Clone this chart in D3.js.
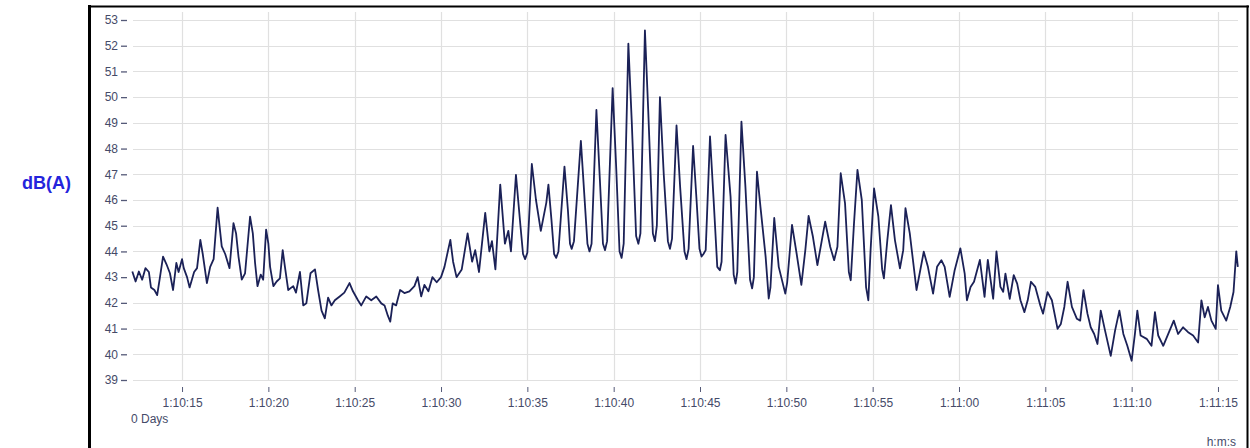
<!DOCTYPE html>
<html>
<head>
  <title>dB(A) over time</title>
  <script src="https://d3js.org/d3.v7.min.js"></script>
  <style>
    body { margin: 0; background: #fff; }
    .tick text { font-family: Arial, "Liberation Sans", sans-serif; font-size: 12px; fill: #454a68; }
    .tick line { stroke: #555a78; }
  </style>
</head>
<body>
  <div id="chart"></div>

  <script>
    // Seconds after 1:10:00
    const seconds = [
      12.12, 12.31, 12.5, 12.69, 12.88, 13.08, 13.2, 13.4, 13.56, 13.7, 13.9, 14.1, 14.3, 14.48, 14.67, 14.8,
      15.0, 15.1, 15.29, 15.44, 15.7, 15.87, 16.06, 16.2, 16.44, 16.63, 16.83, 17.06, 17.17, 17.3, 17.5, 17.75,
      17.98, 18.13, 18.27, 18.46, 18.65, 18.94, 19.1, 19.23, 19.37, 19.56, 19.7, 19.87, 20.0, 20.1, 20.29, 20.48,
      20.67, 20.83, 20.96, 21.15, 21.44, 21.6, 21.83, 22.02, 22.2, 22.44, 22.7, 22.88, 23.08, 23.27, 23.46, 23.65,
      23.85, 24.13, 24.4, 24.7, 24.9, 25.19, 25.38, 25.67, 25.96, 26.25, 26.54, 26.73, 26.92, 27.06, 27.2, 27.4,
      27.63, 27.88, 28.17, 28.46, 28.65, 28.85, 29.04, 29.27,
      29.5, 29.75, 30.0, 30.2, 30.54, 30.7, 30.9, 31.2, 31.54, 31.8, 31.98, 32.2, 32.56, 32.8, 32.95, 33.15,
      33.43, 33.7, 33.9, 34.05, 34.34, 34.6, 34.75, 34.87, 35.0, 35.26, 35.5, 35.78, 36.1, 36.22, 36.4, 36.55,
      36.67, 36.8, 37.15, 37.35, 37.47, 37.57, 37.7, 38.1, 38.3, 38.48, 38.6, 38.72, 39.0, 39.2, 39.38, 39.5,
      39.62, 39.94, 40.15, 40.34, 40.46, 40.58, 40.85, 41.05, 41.3, 41.43, 41.55, 41.81, 42.0, 42.27, 42.39, 42.5,
      42.68, 42.9, 43.14, 43.26, 43.38, 43.64, 43.85, 44.1, 44.22, 44.34, 44.6, 44.8, 44.97, 45.09, 45.2,
      45.33, 45.58, 45.8, 46.0, 46.15, 46.25, 46.48, 46.77, 46.95, 47.06, 47.16, 47.4, 47.63, 47.9, 48.02, 48.12,
      48.3, 48.5, 48.8, 48.98, 49.08, 49.3, 49.56, 49.94, 50.05, 50.33, 50.6, 50.87, 51.1, 51.29, 51.54, 51.8,
      52.25, 52.54, 52.77, 52.96, 53.15, 53.4, 53.62, 53.73, 53.92, 54.12, 54.37, 54.62, 54.75, 54.88, 55.08, 55.33,
      55.55, 55.65, 55.85, 56.06, 56.29, 56.58, 56.77, 56.9, 57.15, 57.54, 57.96, 58.2, 58.5, 58.73, 58.98, 59.17,
      59.46, 59.75, 60.08, 60.33, 60.46,
      60.67, 60.87, 61.21, 61.48, 61.67, 61.98, 62.17, 62.4, 62.56, 62.69, 62.94, 63.17, 63.37, 63.56, 63.79, 63.98,
      64.17, 64.42, 64.71, 64.87, 65.13, 65.38, 65.71, 65.9, 66.1, 66.29, 66.54, 66.83, 67.02, 67.21, 67.44, 67.63,
      67.83, 68.02, 68.21, 68.46, 68.79, 69.04, 69.29, 69.52, 69.75, 70.0, 70.19, 70.33, 70.52, 70.87, 71.15, 71.35,
      71.54, 71.83, 72.12, 72.44, 72.69, 72.98, 73.27, 73.56, 73.85, 74.04, 74.23, 74.42, 74.62, 74.87, 75.0, 75.19,
      75.48, 75.71, 75.9, 76.06, 76.15
    ];

    // Sound level in dB(A) at each of those times
    const dbA = [
      43.22, 42.83, 43.22, 42.9, 43.35, 43.2, 42.6, 42.5, 42.3, 42.9, 43.8, 43.5, 43.15, 42.5, 43.55, 43.2,
      43.7, 43.35, 43.0, 42.6, 43.2, 43.35, 44.45, 43.9, 42.77, 43.4, 43.7, 45.7, 45.0, 44.2, 43.9, 43.35,
      45.1, 44.7, 43.8, 42.9, 43.15, 45.35, 44.7, 43.55, 42.65, 43.1, 42.9, 44.85, 44.3, 43.4, 42.65, 42.83,
      42.95, 44.05, 43.4, 42.5, 42.65, 42.4, 43.2, 41.9, 41.98, 43.15, 43.3, 42.5, 41.7, 41.4, 42.2, 41.9,
      42.1, 42.25, 42.4, 42.77, 42.45, 42.1, 41.9, 42.25, 42.1, 42.25, 41.98, 41.9, 41.5, 41.27, 41.98, 41.9,
      42.5, 42.38, 42.45, 42.65, 43.0, 42.25, 42.7, 42.45,
      43.0, 42.8, 43.0, 43.4, 44.45, 43.6, 43.0, 43.3, 44.7, 43.6, 44.05, 43.2, 45.5, 44.0, 44.4, 43.3,
      46.6, 44.3, 44.8, 44.0, 46.98, 45.0, 43.9, 43.7, 43.95, 47.4, 46.0, 44.8, 45.9, 46.6, 45.2, 43.9,
      43.75, 44.0, 47.3, 45.6, 44.3, 44.1, 44.4, 48.3, 46.2, 44.3, 44.0, 44.3, 49.5, 46.8, 44.3, 44.05,
      44.4, 50.35, 47.2, 44.0, 43.75, 44.3, 52.08, 49.0, 44.6, 44.3, 44.7, 52.6, 49.5, 44.7, 44.4, 45.0,
      50.0, 47.0, 44.4, 44.1, 44.5, 48.9, 46.5, 44.0, 43.7, 44.1, 48.1, 46.0, 44.1, 43.8, 43.9,
      44.05, 48.47, 45.87, 43.4, 43.27, 43.6, 48.53, 46.13, 43.1, 42.75, 43.2, 49.05, 46.52, 42.9, 42.56, 43.0,
      47.1, 45.74, 43.8, 42.17, 42.6, 45.3, 43.4, 42.36, 42.8, 45.03, 43.9, 42.7, 44.05, 45.38, 44.57, 43.47,
      45.16, 44.18, 43.66, 44.18, 47.04, 45.87, 43.2, 42.88, 45.1, 47.17, 46.0, 42.6, 42.1, 44.05, 46.45, 45.35,
      43.3, 42.95, 44.44, 45.8, 44.44, 43.34, 44.05, 45.68, 44.7, 42.5, 43.99, 43.4, 42.36, 43.4, 43.66, 43.4,
      42.23, 43.27, 44.12, 43.14, 42.1,
      42.62, 42.82, 43.67, 42.23, 43.67, 42.16, 44.0, 42.62, 42.43, 43.14, 42.16, 43.08, 42.75, 42.1, 41.64, 42.1,
      42.82, 42.62, 41.9, 41.58, 42.42, 42.1, 40.99, 41.18, 41.84, 42.82, 41.84, 41.38, 41.31, 42.49, 41.58, 41.05,
      40.79, 40.4, 41.7, 40.92, 39.94, 40.92, 41.7, 40.79, 40.33, 39.75, 40.79, 41.7, 40.73, 40.6, 40.33, 41.64,
      40.73, 40.33, 40.79, 41.31, 40.79, 41.05, 40.86, 40.73, 40.46, 42.1, 41.44, 41.84, 41.31, 40.99, 42.69, 41.7,
      41.31, 41.84, 42.42, 44.0, 43.4
    ];

    // Axis ticks
    const yTicks = [39, 40, 41, 42, 43, 44, 45, 46, 47, 48, 49, 50, 51, 52, 53];
    const xTickSeconds = [15, 20, 25, 30, 35, 40, 45, 50, 55, 60, 65, 70, 75];
    const xTickLabels = ["1:10:15", "1:10:20", "1:10:25", "1:10:30", "1:10:35", "1:10:40", "1:10:45",
                         "1:10:50", "1:10:55", "1:11:00", "1:11:05", "1:11:10", "1:11:15"];

    const width = 1250;
    const height = 448;
    const plot = { left: 133, right: 1238, top: 12, bottom: 380 };

    const svg = d3.select("#chart")
      .append("svg")
      .attr("width", width)
      .attr("height", height)
      .style("display", "block");

    svg.append("rect").attr("width", width).attr("height", height).attr("fill", "#fff");

    const x = d3.scaleLinear()
      .domain([12.16, 76.16])
      .range([plot.left, plot.right]);

    const y = d3.scaleLinear()
      .domain([39, 53])
      .range([380, 20]);

    // Grid
    svg.append("g")
      .selectAll("line")
      .data(yTicks)
      .join("line")
      .attr("x1", plot.left).attr("x2", plot.right)
      .attr("y1", d => Math.round(y(d)) + 0.5).attr("y2", d => Math.round(y(d)) + 0.5)
      .attr("stroke", "#e0e0e0")
      .attr("stroke-width", 1.2);

    svg.append("g")
      .selectAll("line")
      .data(xTickSeconds)
      .join("line")
      .attr("x1", d => Math.round(x(d)) + 0.5).attr("x2", d => Math.round(x(d)) + 0.5)
      .attr("y1", plot.top).attr("y2", plot.bottom)
      .attr("stroke", "#e0e0e0")
      .attr("stroke-width", 1.2);

    // Axes
    const yAxis = svg.append("g")
      .attr("transform", "translate(127,0)")
      .call(d3.axisLeft(y).tickValues(yTicks).tickSize(6).tickPadding(3).tickFormat(d3.format("d")));
    yAxis.select(".domain").remove();
    yAxis.selectAll(".tick line").attr("stroke-width", 1.3);

    const xAxis = svg.append("g")
      .attr("transform", "translate(0,387)")
      .call(d3.axisBottom(x).tickValues(xTickSeconds).tickSize(5).tickPadding(6)
        .tickFormat((d, i) => xTickLabels[i]));
    xAxis.select(".domain").remove();

    // Trace
    const line = d3.line()
      .x((d, i) => x(seconds[i]))
      .y(d => y(d));

    svg.append("path")
      .datum(dbA)
      .attr("d", line)
      .attr("fill", "none")
      .attr("stroke", "#1b2157")
      .attr("stroke-width", 1.8)
      .attr("stroke-linejoin", "round");

    // Labels
    svg.append("text")
      .attr("x", 131).attr("y", 423)
      .attr("font-family", "Arial, 'Liberation Sans', sans-serif")
      .attr("font-size", 12)
      .attr("fill", "#454a68")
      .text("0 Days");

    svg.append("text")
      .attr("x", 1236).attr("y", 446)
      .attr("text-anchor", "end")
      .attr("font-family", "Arial, 'Liberation Sans', sans-serif")
      .attr("font-size", 12)
      .attr("fill", "#454a68")
      .text("h:m:s");

    svg.append("text")
      .attr("x", 22).attr("y", 189)
      .attr("font-family", "Arial, 'Liberation Sans', sans-serif")
      .attr("font-size", 18)
      .attr("font-weight", "bold")
      .attr("fill", "#2424dc")
      .text("dB(A)");

    // Frame
    svg.append("line").attr("x1", 89.5).attr("x2", 89.5).attr("y1", 5).attr("y2", height)
      .attr("stroke", "#000").attr("stroke-width", 3);
    svg.append("line").attr("x1", 88).attr("x2", 1249).attr("y1", 6.5).attr("y2", 6.5)
      .attr("stroke", "#000").attr("stroke-width", 2);
    svg.append("line").attr("x1", 1247.5).attr("x2", 1247.5).attr("y1", 5.5).attr("y2", height)
      .attr("stroke", "#000").attr("stroke-width", 2);
  </script>
</body>
</html>
